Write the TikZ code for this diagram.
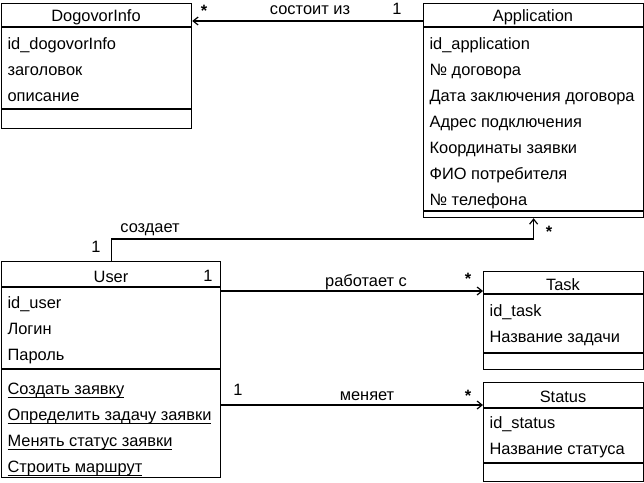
\documentclass[tikz,border=0pt]{standalone}
\usepackage{fontspec}
\setmainfont{Liberation Sans}
\usepackage{tikz}
\usetikzlibrary{positioning}
\usetikzlibrary{arrows.meta}

% underlined method name
\newcommand{\mlink}[1]{\setbox0\hbox{#1}\rlap{\rule[-3.5pt]{\wd0}{0.9pt}}\box0}

\tikzset{
  classbox/.style={draw, inner sep=0pt, anchor=north west},
  title/.style={inner sep=0pt, text height=0.72em, text depth=0.21em, yshift=-4pt},
  attr/.style={anchor=west, inner sep=0pt, text height=0.72em, text depth=0.21em, yshift=-4pt},
  lbl/.style={inner sep=0pt, text height=0.72em, text depth=0.21em, yshift=-3pt},
  assoc/.style={-{Straight Barb[length=5pt,width=8pt]}},
}

\begin{document}
\begin{tikzpicture}[x=1pt, y=-1pt, line width=1.2pt, font=\fontsize{16.4}{19}\selectfont]

    \useasboundingbox (0,0) rectangle (644,482);

    % DogovorInfo
    \begin{scope}[shift={(1,3)}]
        \node[classbox, minimum width=190pt, minimum height=125pt] (dogovor) at (0,0) {};
        \draw (0,24) -- (190,24);
        \draw (0,106) -- (190,106);
        \node[title] (dogovorT) at (95,12) {DogovorInfo};
        \node[attr] (dogovorA1) at (6,40) {id\_dogovorInfo};
        \node[attr] (dogovorA2) at (6,66) {заголовок};
        \node[attr] (dogovorA3) at (6,92) {описание};
    \end{scope}

    % Application
    \begin{scope}[shift={(423,3)}]
        \node[classbox, minimum width=220pt, minimum height=214pt] (app) at (0,0) {};
        \draw (0,24) -- (220,24);
        \draw (0,208) -- (220,208);
        \node[title] (appT) at (110,12) {Application};
        \node[attr] (appA1) at (6,40) {id\_application};
        \node[attr] (appA2) at (6,66) {№ договора};
        \node[attr] (appA3) at (6,92) {Дата заключения договора};
        \node[attr] (appA4) at (6,118) {Адрес подключения};
        \node[attr] (appA5) at (6,144) {Координаты заявки};
        \node[attr] (appA6) at (6,170) {ФИО потребителя};
        \node[attr] (appA7) at (6,196) {№ телефона};
    \end{scope}

    % User
    \begin{scope}[shift={(1,261)}]
        \node[classbox, minimum width=219pt, minimum height=216pt] (user) at (0,0) {};
        \draw (0,26) -- (219,26);
        \draw (0,108) -- (219,108);
        \node[title] (userT) at (110,15) {User};
        \node[attr] (userA1) at (6,41) {id\_user};
        \node[attr] (userA2) at (6,67) {Логин};
        \node[attr] (userA3) at (6,93) {Пароль};
        % methods
        \node[attr] (userM1) at (6,127) {\mlink{Создать заявку}};
        \node[attr] (userM2) at (6,153) {\mlink{Определить задачу заявки}};
        \node[attr] (userM3) at (6,179) {\mlink{Менять статус заявки}};
        \node[attr] (userM4) at (6,205) {\mlink{Строить маршрут}};
    \end{scope}

    % Task
    \begin{scope}[shift={(483,271)}]
        \node[classbox, minimum width=160pt, minimum height=98pt] (task) at (0,0) {};
        \draw (0,23) -- (160,23);
        \draw (0,82) -- (160,82);
        \node[title] (taskT) at (80,13) {Task};
        \node[attr] (taskA1) at (6,39) {id\_task};
        \node[attr] (taskA2) at (6,65) {Название задачи};
    \end{scope}

    % Status
    \begin{scope}[shift={(483,382)}]
        \node[classbox, minimum width=160pt, minimum height=99pt] (status) at (0,0) {};
        \draw (0,26) -- (160,26);
        \draw (0,81) -- (160,81);
        \node[title] (statusT) at (80,14) {Status};
        \node[attr] (statusA1) at (6,40) {id\_status};
        \node[attr] (statusA2) at (6,66) {Название статуса};
    \end{scope}

    % Associations
    \coordinate (linkDI) at (0,21);
    \coordinate (linkUT) at (0,291);
    \coordinate (linkUS) at (0,405);

    \draw[assoc] (app.west |- linkDI) -- (dogovor.east |- linkDI);
    \draw[assoc] (user.north) -- ++(0,-22) -| (app.south);
    \draw[assoc] (user.east |- linkUT) -- (task.west |- linkUT);
    \draw[assoc] (user.east |- linkUS) -- (status.west |- linkUS);

    % multiplicities and names
    \node[lbl] (diMany) at (204,11) {\textbf{*}};
    \node[lbl] (diName) at (310,9) {состоит из};
    \node[lbl] (diOne) at (397,9) {1};

    \node[lbl] (uaOne) at (96,247) {1};
    \node[lbl] (uaName) at (150,227) {создает};
    \node[lbl] (uaMany) at (549,232) {\textbf{*}};

    \node[lbl] (utOne) at (208,276) {1};
    \node[lbl] (utName) at (366,281) {работает с};
    \node[lbl] (utMany) at (468,279) {\textbf{*}};

    \node[lbl] (usOne) at (238,390) {1};
    \node[lbl] (usName) at (367,395) {меняет};
    \node[lbl] (usMany) at (468,396) {\textbf{*}};

\end{tikzpicture}
\end{document}
